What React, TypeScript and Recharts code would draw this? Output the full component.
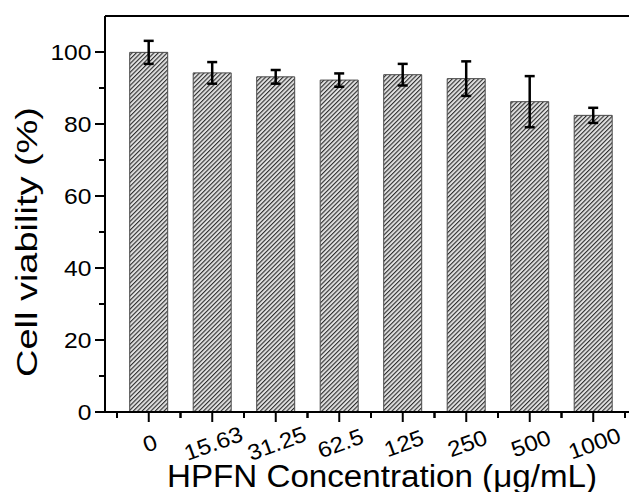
import React from 'react';
import { BarChart, Bar, XAxis, YAxis, ErrorBar, ReferenceLine } from 'recharts';

const concentrations = ['0', '15.63', '31.25', '62.5', '125', '250', '500', '1000'];
const viability = [99.9, 94.2, 93.1, 92.2, 93.7, 92.6, 86.2, 82.4];
const errors = [3.2, 3.0, 1.9, 1.85, 3.0, 4.8, 7.1, 2.1];
const yTicks = [0, 10, 20, 30, 40, 50, 60, 70, 80, 90, 100];
const yDomain: [number, number] = [0, 110];

const data = concentrations.map((c, i) => ({ conc: c, viability: viability[i], err: errors[i] }));

const FONT = '"Liberation Sans", Arial, Helvetica, sans-serif';

const YTick = (props: any) => {
  const { x, y, payload } = props;
  const major = payload.value % 20 === 0;
  return (
    <g>
      <line x1={x} x2={x - (major ? 10 : 6)} y1={y} y2={y} stroke="#000" strokeWidth={2} />
      {major && (
        <text
          transform={`translate(${x - 13.5},${y + 8}) scale(1.12,1)`}
          textAnchor="end"
          fontSize={22}
          fontFamily={FONT}
          fill="#000"
        >
          {payload.value}
        </text>
      )}
    </g>
  );
};

const XTick = (props: any) => {
  const { x, y, payload } = props;
  const half = typeof payload.offset === 'number' && payload.offset > 0 ? payload.offset : 31.75;
  return (
    <g>
      <line x1={x} x2={x} y1={y} y2={y + 10} stroke="#000" strokeWidth={2} />
      <line x1={x - half} x2={x - half} y1={y} y2={y + 6} stroke="#000" strokeWidth={2} />
      <line x1={x + half} x2={x + half} y1={y} y2={y + 6} stroke="#000" strokeWidth={2} />
      <text
        transform={`translate(${x + 1},${y + 31}) rotate(-20) scale(1.1,1)`}
        textAnchor="middle"
        dy={8}
        fontSize={22}
        fontFamily={FONT}
        fill="#000"
      >
        {payload.value}
      </text>
    </g>
  );
};

const YTitle = () => (
  <text
    x={37}
    y={242}
    transform="rotate(-90 37 242)"
    textAnchor="middle"
    fontSize={30}
    fontFamily={FONT}
    fill="#000"
    textLength={270}
    lengthAdjust="spacingAndGlyphs"
  >
    Cell viability (%)
  </text>
);

const XTitle = () => (
  <text
    x={382}
    y={486.5}
    textAnchor="middle"
    fontSize={31}
    fontFamily={FONT}
    fill="#000"
    textLength={430}
    lengthAdjust="spacingAndGlyphs"
  >
    HPFN Concentration (μg/mL)
  </text>
);

export default function App() {
  return (
    <div style={{ position: 'absolute', left: 0, top: 0, width: 629, height: 492, background: '#fff' }}>
      <BarChart
        width={629}
        height={492}
        data={data}
        margin={{ top: 16, right: 0, bottom: 0, left: 0 }}
        barCategoryGap="20%"
      >
        <defs>
          <pattern id="hatch" patternUnits="userSpaceOnUse" width={3.1} height={3.1} patternTransform="rotate(45)">
            <rect x={0} y={0} width={3.1} height={3.1} fill="#c6c6c6" />
            <rect x={0} y={0} width={1} height={3.1} fill="#2e2e2e" />
            <rect x={1.8} y={0} width={0.8} height={3.1} fill="#f6f6f6" />
          </pattern>
        </defs>
        <XAxis
          dataKey="conc"
          height={80}
          padding={{ left: 12, right: 4 }}
          axisLine={{ stroke: '#000', strokeWidth: 2 }}
          tickLine={false}
          tickSize={0}
          tickMargin={0}
          interval={0}
          tick={<XTick />}
          label={<XTitle />}
        />
        <YAxis
          domain={yDomain}
          ticks={yTicks}
          width={105}
          axisLine={{ stroke: '#000', strokeWidth: 2 }}
          tickLine={false}
          tickSize={0}
          tickMargin={0}
          interval={0}
          tick={<YTick />}
          label={<YTitle />}
        />
        <ReferenceLine y={110} stroke="#000" strokeWidth={2} />
        <Bar dataKey="viability" fill="url(#hatch)" stroke="#4a4a4a" strokeWidth={1} isAnimationActive={false}>
          <ErrorBar dataKey="err" width={5} strokeWidth={2.5} stroke="#000" direction="y" />
        </Bar>
      </BarChart>
    </div>
  );
}
